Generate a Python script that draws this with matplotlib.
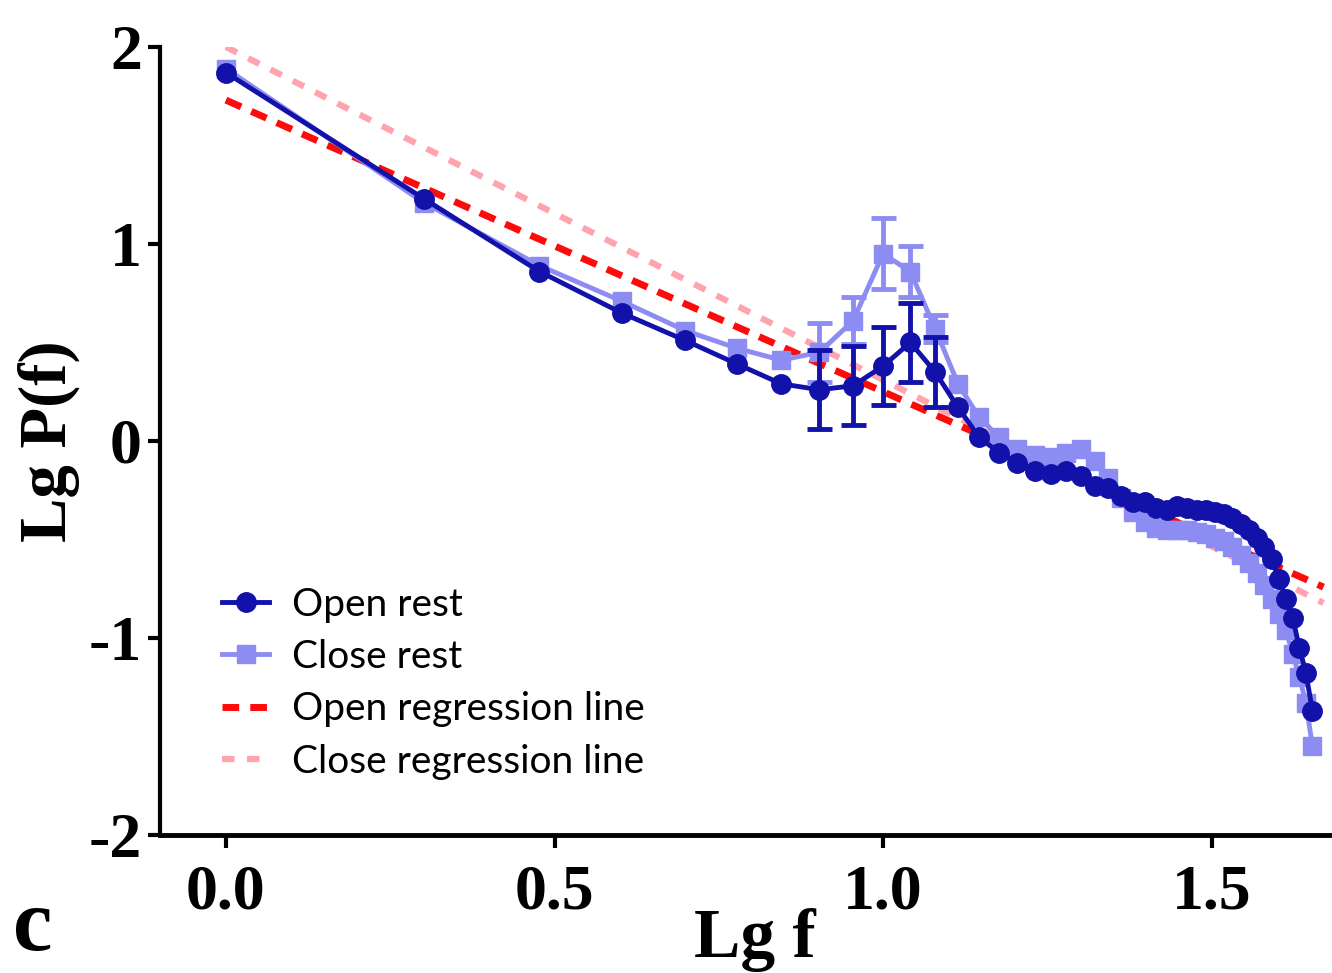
import numpy as np
import matplotlib.pyplot as plt
from matplotlib.lines import Line2D

# frequencies 1..45 Hz, plotted as log10
freq = np.arange(1, 46)
lg_f = np.log10(freq)

open_rest = [1.87, 1.23, 0.86, 0.65, 0.51, 0.39, 0.29, 0.26, 0.28, 0.38,
             0.50, 0.35, 0.17, 0.02, -0.06, -0.11, -0.15, -0.17, -0.15, -0.18,
             -0.23, -0.24, -0.28, -0.31, -0.31, -0.34, -0.35, -0.33, -0.34, -0.35,
             -0.35, -0.36, -0.37, -0.39, -0.42, -0.45, -0.49, -0.54, -0.60, -0.70,
             -0.80, -0.90, -1.05, -1.18, -1.37]
close_rest = [1.89, 1.21, 0.89, 0.71, 0.56, 0.47, 0.41, 0.45, 0.61, 0.95,
              0.86, 0.57, 0.29, 0.12, 0.02, -0.04, -0.07, -0.08, -0.06, -0.04,
              -0.10, -0.19, -0.29, -0.36, -0.41, -0.44, -0.45, -0.45, -0.45, -0.46,
              -0.47, -0.49, -0.51, -0.54, -0.58, -0.62, -0.67, -0.73, -0.80, -0.88,
              -0.96, -1.08, -1.20, -1.33, -1.55]

# SEM, only visible around the alpha peak (8-12 Hz)
open_err = np.zeros(45)
close_err = np.zeros(45)
open_err[7:12] = [0.20, 0.20, 0.20, 0.20, 0.18]
close_err[7:12] = [0.15, 0.12, 0.18, 0.13, 0.07]

# regression fits: intercept, slope
open_fit = (1.73, -1.48)
close_fit = (2.00, -1.69)
fit_x = np.array([0.0, 1.67])

dark = '#1212AA'
light = '#8C8CF2'
red = '#FF0A0A'
pink = '#FFA3AE'

fig = plt.figure(figsize=(13.32, 9.73), dpi=100)
ax = fig.add_axes([0.120, 0.1418, 0.88, 0.810])

ax.plot(fit_x, close_fit[0] + close_fit[1] * fit_x, color=pink, lw=4.5,
        dashes=(2.0, 2.0), zorder=1)
ax.plot(fit_x, open_fit[0] + open_fit[1] * fit_x, color=red, lw=5,
        dashes=(2.4, 1.6), zorder=2)

close_y = np.array(close_rest)
open_y = np.array(open_rest)
ce = close_err > 0
oe = open_err > 0

ax.plot(lg_f, close_y, color=light, marker='s', ms=13, lw=3.5, zorder=3)
ax.errorbar(lg_f[ce], close_y[ce], yerr=close_err[ce], fmt='none', ecolor=light,
            elinewidth=3.5, capsize=9, capthick=3.5, zorder=3)
ax.plot(lg_f, open_y, color=dark, marker='o', ms=14, lw=3.5, zorder=4)
ax.errorbar(lg_f[oe], open_y[oe], yerr=open_err[oe], fmt='none', ecolor=dark,
            elinewidth=3.5, capsize=9, capthick=3.5, zorder=4)

ax.set_xlim(-0.1005, 1.683)
ax.set_ylim(-2, 2)
ax.set_xticks([0.0, 0.5, 1.0, 1.5])
ax.set_xticklabels(['0.0', '0.5', '1.0', '1.5'])
ax.set_yticks([-2, -1, 0, 1, 2])
ax.set_yticklabels(['-2', '-1', '0', '1', '2'])

for s in ['top', 'right']:
    ax.spines[s].set_visible(False)
ax.spines['left'].set_linewidth(3)
ax.spines['bottom'].set_linewidth(3.5)
ax.tick_params(axis='both', length=9, width=3, labelsize=46)
ax.tick_params(axis='x', pad=12)
ax.tick_params(axis='y', pad=4)
for lab in ax.get_xticklabels() + ax.get_yticklabels():
    lab.set_fontfamily('Liberation Serif')
    lab.set_fontweight('bold')

ax.set_xlabel('Lg f', fontfamily='Liberation Serif', fontweight='bold',
              fontsize=50)
ax.xaxis.set_label_coords(0.508, -0.092)
ax.set_ylabel('Lg P(f)', fontfamily='Liberation Serif', fontweight='bold',
              fontsize=48, labelpad=6)

handles = [
    Line2D([], [], color=dark, marker='o', ms=14, lw=3.5),
    Line2D([], [], color=light, marker='s', ms=13, lw=3.5),
    Line2D([], [], color=red, lw=5, dashes=(2.4, 1.6)),
    Line2D([], [], color=pink, lw=4.5, dashes=(2.0, 2.0)),
]
labels = ['Open rest', 'Close rest', 'Open regression line', 'Close regression line']
ax.legend(handles, labels, loc='upper left', bbox_to_anchor=(0.04, 0.335),
          frameon=False, prop={'family': 'Lato', 'size': 28}, handlelength=1.2,
          handletextpad=0.6, labelspacing=0.42, borderaxespad=0)

fig.text(0.010, 0.024, 'c', fontfamily='Liberation Serif', fontweight='bold',
         fontsize=64, va='baseline')

fig.savefig('out.png', dpi=100)
